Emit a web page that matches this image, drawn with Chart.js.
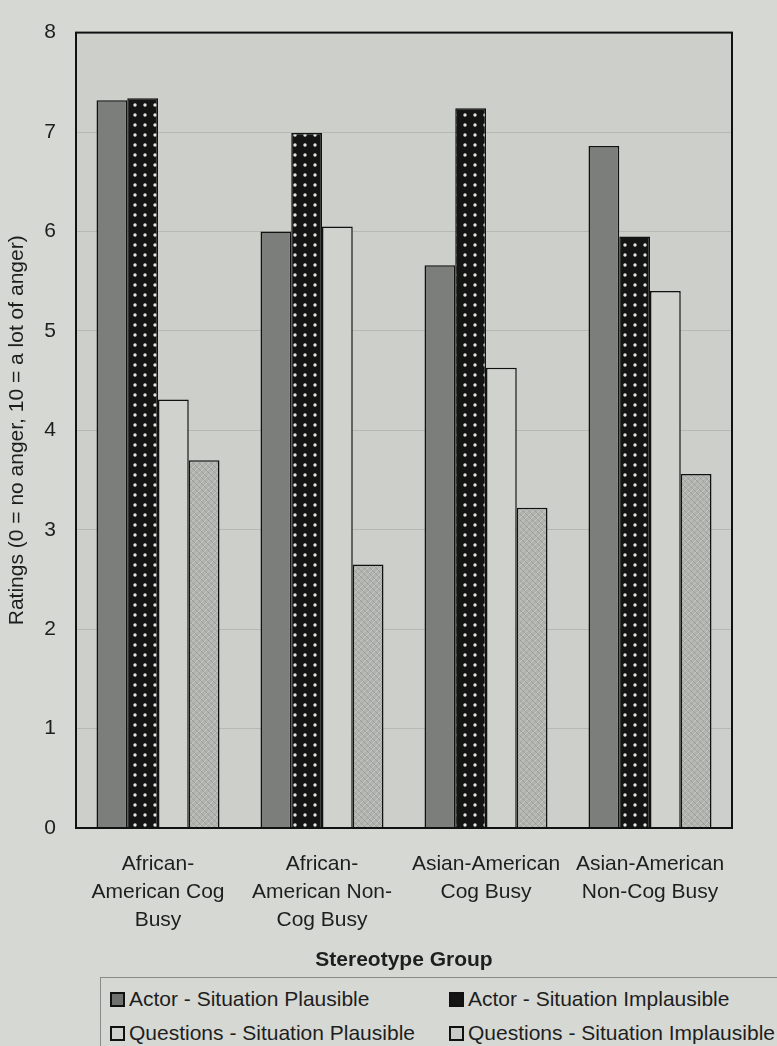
<!DOCTYPE html>
<html>
<head>
<meta charset="utf-8">
<script src="https://cdn.jsdelivr.net/npm/chart.js@4/dist/chart.umd.min.js"></script>
<style>
  body { margin: 0; background: #d6d8d3; font-family: "Liberation Sans", Arial, sans-serif; }
  #wrap { position: relative; width: 777px; height: 1046px; overflow: hidden; }
  #box { position: absolute; left: 0; top: 0; width: 777px; height: 977px; }
  #legend {
    position: absolute; left: 100px; top: 977px; width: 700px; height: 100px;
    border-top: 1px solid #8a8c88; border-left: 1px solid #8a8c88;
    display: grid; grid-template-columns: 339px 340px; grid-auto-rows: 34px;
    padding: 4px 0 0 9px; box-sizing: border-box; font-size: 21px; color: #1e1e1e;
  }
  .item { display: flex; align-items: center; white-space: nowrap; }
  .sw { width: 11px; height: 11px; border: 2px solid #111; margin-right: 4px; flex: none; }
</style>
</head>
<body>
<div id="wrap">
  <div id="box"><canvas id="grafico"></canvas></div>
  <div id="legend"></div>
</div>
<script>
// dados
const categorias = [
  ['African-', 'American Cog', 'Busy'],
  ['African-', 'American Non-', 'Cog Busy'],
  ['Asian-American', 'Cog Busy'],
  ['Asian-American', 'Non-Cog Busy']
];
const actorPlausible = [7.32, 6.00, 5.66, 6.86];
const actorImplausible = [7.34, 6.99, 7.24, 5.95];
const questionsPlausible = [4.31, 6.05, 4.63, 5.40];
const questionsImplausible = [3.70, 2.65, 3.22, 3.56];
const yTicks = [0, 1, 2, 3, 4, 5, 6, 7, 8];

// padrões das barras
const padraoPontos = () => {
  const c = document.createElement('canvas');
  c.width = 10; c.height = 10;
  const g = c.getContext('2d');
  g.fillStyle = '#141414';
  g.fillRect(0, 0, 10, 10);
  g.fillStyle = '#e4e4e0';
  g.beginPath();
  g.arc(5, 5, 1.7, 0, Math.PI * 2);
  g.fill();
  return g.createPattern(c, 'repeat');
};
const padraoXadrez = () => {
  const c = document.createElement('canvas');
  c.width = 6; c.height = 6;
  const g = c.getContext('2d');
  g.fillStyle = '#b2b4b0';
  g.fillRect(0, 0, 6, 6);
  g.strokeStyle = '#9b9d99';
  g.lineWidth = 1;
  g.beginPath(); g.moveTo(0, 0); g.lineTo(6, 6); g.stroke();
  g.strokeStyle = '#c6c8c4';
  g.beginPath(); g.moveTo(6, 0); g.lineTo(0, 6); g.stroke();
  return g.createPattern(c, 'repeat');
};

const series = [
  { label: 'Actor - Situation Plausible', data: actorPlausible, fill: '#7c7e7b', sw: '#6f716e' },
  { label: 'Actor - Situation Implausible', data: actorImplausible, fill: padraoPontos(), sw: '#141414' },
  { label: 'Questions - Situation Plausible', data: questionsPlausible, fill: '#d0d2cd', sw: '#d0d2cd' },
  { label: 'Questions - Situation Implausible', data: questionsImplausible, fill: padraoXadrez(), sw: '#c9cbc6' }
];

// moldura e fundo da área do gráfico
const moldura = {
  id: 'moldura',
  beforeDraw(chart) {
    const { ctx, chartArea: a } = chart;
    ctx.save();
    ctx.fillStyle = '#cdcfca';
    ctx.fillRect(a.left, a.top, a.right - a.left, a.bottom - a.top);
    ctx.restore();
  },
  afterDatasetsDraw(chart) {
    const { ctx, chartArea: a } = chart;
    ctx.save();
    ctx.strokeStyle = '#111';
    ctx.lineWidth = 2;
    ctx.strokeRect(a.left, a.top, a.right - a.left, a.bottom - a.top);
    ctx.restore();
  }
};

const fonte = { family: '"Liberation Sans", Arial, sans-serif', size: 21 };

const grafico = new Chart(document.getElementById('grafico'), {
  type: 'bar',
  data: {
    labels: categorias,
    datasets: series.map(s => ({
      label: s.label,
      data: s.data,
      backgroundColor: s.fill,
      borderColor: '#111',
      borderWidth: 1.5,
      categoryPercentage: 0.75,
      barPercentage: 1
    }))
  },
  options: {
    responsive: true,
    maintainAspectRatio: false,
    animation: false,
    layout: { padding: { top: 24, right: 45, left: 0, bottom: 0 } },
    plugins: { legend: { display: false }, tooltip: { enabled: false } },
    scales: {
      x: {
        grid: { display: false },
        border: { display: false },
        ticks: { font: { ...fonte, lineHeight: 1.333 }, color: '#1e1e1e', padding: 14, maxRotation: 0 },
        title: { display: true, text: 'Stereotype Group', font: { ...fonte, weight: 'bold' }, color: '#1e1e1e', padding: { top: 4, bottom: 4 } },
        afterFit: s => { s.height = 149; }
      },
      y: {
        min: 0, max: 8,
        afterBuildTicks: s => { s.ticks = yTicks.map(v => ({ value: v })); },
        grid: { color: '#b6b8b3', lineWidth: 1, drawTicks: false },
        border: { display: false },
        ticks: { font: fonte, color: '#1e1e1e', padding: 20 },
        title: { display: true, text: 'Ratings (0 = no anger, 10 = a lot of anger)', font: fonte, color: '#1e1e1e', padding: { top: 5, bottom: 0 } },
        afterFit: s => { s.width = 76; }
      }
    }
  },
  plugins: [moldura]
});

// legenda em duas colunas
const legenda = document.getElementById('legend');
series.forEach(s => {
  const el = document.createElement('div');
  el.className = 'item';
  el.innerHTML = `<span class="sw" style="background:${s.sw}"></span>${s.label}`;
  legenda.appendChild(el);
});
</script>
</body>
</html>
